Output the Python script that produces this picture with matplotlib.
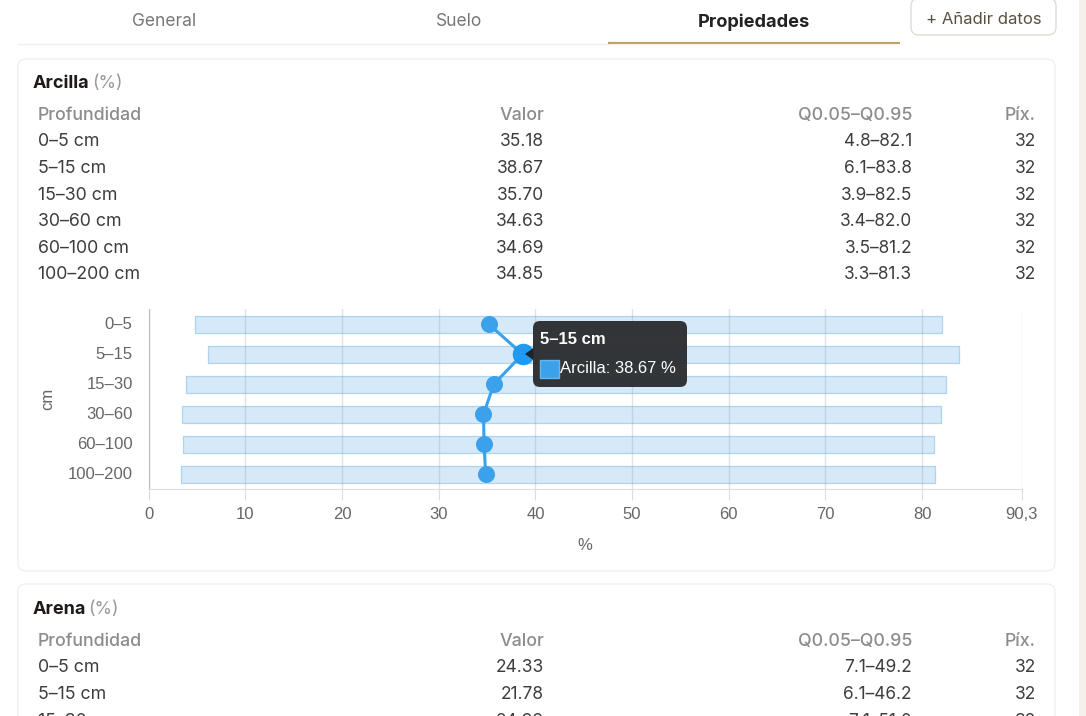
import matplotlib
matplotlib.use('Agg')
import matplotlib.pyplot as plt
from matplotlib.patches import FancyBboxPatch, Rectangle, Polygon
from matplotlib.transforms import ScaledTranslation

W, H = 1086, 716

plt.rcParams['font.family'] = ['Inter', 'DejaVu Sans']

# tables
clay_depths = ['0–5 cm', '5–15 cm', '15–30 cm', '30–60 cm', '60–100 cm', '100–200 cm']
clay_values = ['35.18', '38.67', '35.70', '34.63', '34.69', '34.85']
clay_ranges = ['4.8–82.1', '6.1–83.8', '3.9–82.5', '3.4–82.0', '3.5–81.2', '3.3–81.3']
clay_pix = ['32', '32', '32', '32', '32', '32']

sand_depths = ['0–5 cm', '5–15 cm', '15–30 cm']
sand_values = ['24.33', '21.78', '24.99']
sand_ranges = ['7.1–49.2', '6.1–46.2', '7.1–51.0']
sand_pix = ['32', '32', '32']

# chart
depth_labels = ['0–5', '5–15', '15–30', '30–60', '60–100', '100–200']
mean_vals = [35.18, 38.67, 35.70, 34.63, 34.69, 34.85]
q05 = [4.8, 6.1, 3.9, 3.4, 3.5, 3.3]
q95 = [82.1, 83.8, 82.5, 82.0, 81.2, 81.3]
x_ticks = [0, 10, 20, 30, 40, 50, 60, 70, 80, 90.3]
x_tick_labels = ['0', '10', '20', '30', '40', '50', '60', '70', '80', '90,3']

BLUE = '#3ba1ea'
HEAD = '#8c8c8c'
DARK = '#3d3d3d'
AXIS_FONT = ['Liberation Sans', 'DejaVu Sans']

fig = plt.figure(figsize=(W / 100, H / 100), dpi=100, facecolor='white')

# page layer in pixel coords
page = fig.add_axes([0, 0, 1, 1])
page.set_xlim(0, W)
page.set_ylim(H, 0)
page.axis('off')

# beige strip on the right edge of the page
page.add_patch(Rectangle((1079, 0), W - 1079, H, fc='#f5f1ea', ec='none'))


def card(x0, y0, x1, y1):
    page.add_patch(FancyBboxPatch((x0 + 8, y0 + 8), x1 - x0 - 16, y1 - y0 - 16,
                                  boxstyle='round,pad=8,rounding_size=8',
                                  fc='white', ec='#f0f0f0', lw=1))


def table(y_head, depths, values, ranges, pix):
    row_h = 26.6
    page.text(38, y_head + 1.5, 'Profundidad', fontsize=12.8, color=HEAD, weight='medium', va='center')
    page.text(544, y_head + 1.5, 'Valor', fontsize=12.8, color=HEAD, weight='medium', va='center', ha='right')
    page.text(912, y_head + 1.5, 'Q0.05–Q0.95', fontsize=12.8, color=HEAD, weight='medium', va='center', ha='right')
    page.text(1036, y_head + 1.5, 'Píx.', fontsize=12.8, color=HEAD, weight='medium', va='center', ha='right')
    for i in range(len(depths)):
        y = y_head + 27.8 + i * row_h
        page.text(38, y, depths[i], fontsize=12.8, color=DARK, va='center')
        page.text(544, y, values[i], fontsize=12.5, color=DARK, va='center', ha='right')
        page.text(912, y, ranges[i], fontsize=12.4, color=DARK, va='center', ha='right')
        page.text(1036, y, pix[i], fontsize=12.5, color=DARK, va='center', ha='right')


# tabs
page.text(164, 22, 'General', fontsize=12.5, color='#777777', ha='center', va='center')
page.text(459, 22, 'Suelo', fontsize=12.5, color='#777777', ha='center', va='center')
page.text(754, 22, 'Propiedades', fontsize=13.1, color='#222222', ha='center', va='center', weight='bold')
page.plot([18, 608], [43.5, 43.5], color='#eeeeee', lw=1)
page.plot([608, 900], [43, 43], color='#bfa26a', lw=1.6, solid_capstyle='butt')
page.add_patch(FancyBboxPatch((919, 6), 129, 21, boxstyle='round,pad=8,rounding_size=8',
                              fc='white', ec='#e0dcd4', lw=1))
page.text(984, 19, '+ Añadir datos', fontsize=12, color='#5a5040', ha='center', va='center')

# cards
card(18, 59, 1055, 571)
card(18, 584, 1055, 740)

page.text(33, 83, 'Arcilla', fontsize=13, color='#1f1a17', weight='bold', va='center')
page.text(92, 83, '(%)', fontsize=12.8, color='#999999', va='center')
table(114, clay_depths, clay_values, clay_ranges, clay_pix)

page.text(33, 609, 'Arena', fontsize=13, color='#1f1a17', weight='bold', va='center')
page.text(88.5, 609, '(%)', fontsize=12.8, color='#999999', va='center')
table(640, sand_depths, sand_values, sand_ranges, sand_pix)

# chart axes: x 148.7..1021.7 px, y 309.2..489.2 px
ax = fig.add_axes([148.7 / W, 1 - 489.2 / H, 873 / W, 180 / H])
ax.patch.set_alpha(0)
positions = list(range(len(depth_labels)))
widths = [b - a for a, b in zip(q05, q95)]
ax.barh(positions, widths, left=q05, height=0.567, color='#d5e9f8', edgecolor='#aed4f0', lw=0.9, zorder=2)
ax.grid(axis='x', color='#8f9aa8', alpha=0.28, lw=1, zorder=3)
ax.plot(mean_vals, positions, color=BLUE, lw=2.2, zorder=4)
ax.scatter(mean_vals, positions, s=150, color=BLUE, zorder=5, lw=0)
ax.scatter(mean_vals[1:2], positions[1:2], s=240, color='#2299f0', zorder=6, lw=0)
ax.set_xlim(0, 90.3)
ax.set_ylim(5.5, -0.5)
ax.set_xticks(x_ticks)
ax.set_xticklabels(x_tick_labels, fontsize=12, color='#666666', family=AXIS_FONT)
ax.set_yticks(positions)
ax.set_yticklabels(depth_labels, fontsize=12, color='#666666', family=AXIS_FONT)
ax.tick_params(axis='y', length=0, pad=11.5)
ax.tick_params(axis='x', length=7.6, color='#dddddd', pad=5.5)
# labels sit one pixel above the bar centres
nudge = ScaledTranslation(0, 1 / 100, fig.dpi_scale_trans)
for lab in ax.get_yticklabels():
    lab.set_transform(lab.get_transform() + nudge)
ax.set_axisbelow(False)
for s in ['top', 'right']:
    ax.spines[s].set_visible(False)
ax.spines['left'].set_color('#c8c8c8')
ax.spines['bottom'].set_color('#dddddd')
ax.set_xlabel('%', fontsize=12, color='#666666', labelpad=11, family=AXIS_FONT)
ax.set_ylabel('cm', fontsize=12, color='#666666', labelpad=9, family=AXIS_FONT)

# tooltip
over = fig.add_axes([0, 0, 1, 1])
over.set_xlim(0, W)
over.set_ylim(H, 0)
over.axis('off')
over.add_patch(Polygon([[525, 354], [534, 347.5], [534, 360.5]], fc='#1a2530', ec='none'))
over.add_patch(FancyBboxPatch((539, 327), 142, 54, boxstyle='round,pad=6,rounding_size=7',
                              fc='#2b2d2f', ec='none', alpha=0.96))
over.text(540, 339.5, '5–15 cm', fontsize=12, color='white', weight='bold', va='center', family=AXIS_FONT)
over.add_patch(Rectangle((539.5, 359.5), 19, 18.5, fc=BLUE, ec='#69b6ee', lw=1))
over.text(560, 368.5, 'Arcilla: 38.67 %', fontsize=12, color='white', va='center', family=AXIS_FONT)

fig.savefig('out.png', dpi=100)
